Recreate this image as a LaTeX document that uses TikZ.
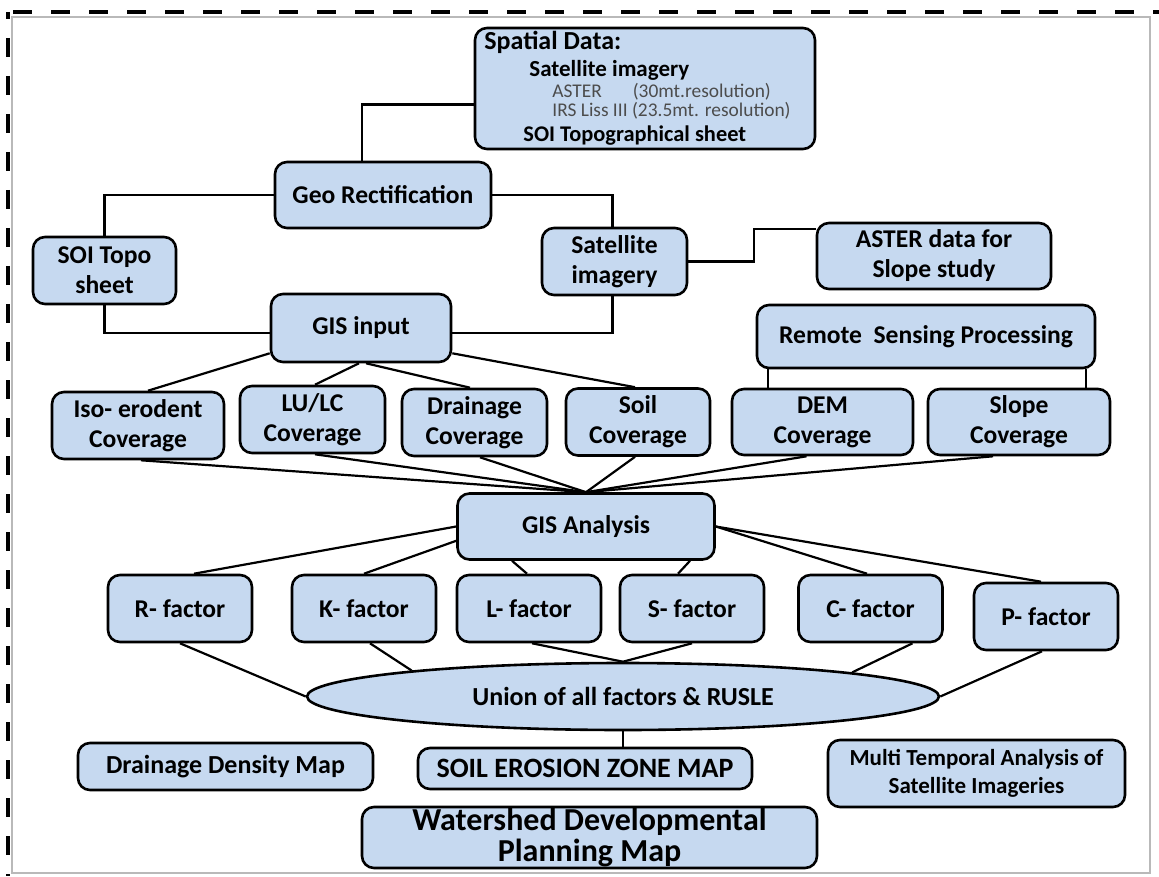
\documentclass[tikz,border=0pt]{standalone}
\usepackage{fontspec}
\setmainfont{Carlito}
\usetikzlibrary{calc, shapes.geometric, positioning}
\definecolor{azulcaja}{RGB}{198,217,240}
\tikzset{
    caja/.style={draw, rounded corners=6pt, fill=azulcaja, line width=1.3pt, inner sep=0pt, align=center, text=black, font=\bfseries\fontsize{12.8}{15}\selectfont},
    tam/.style 2 args={minimum width={#1*0.5pt}, minimum height={#2*0.5pt}},
    elipse/.style={draw, ellipse, fill=azulcaja, line width=1.3pt, inner sep=0pt, text=black, font=\bfseries\fontsize{13}{15}\selectfont},
    texto/.style={anchor=base west, inner sep=0pt, text=black},
    conector/.style={line width=1.1pt, black},
    marco/.style={line width=2.3pt, dash pattern=on 9.5pt off 9.5pt},
}

\begin{document}
\begin{tikzpicture}[x=0.5pt, y=-0.5pt]
\useasboundingbox (0,0) rectangle (1159,876);

% Marco de la figura
\draw[gray!55, line width=0.8pt] (12,17) rectangle (1150,873);
\draw[marco, dash phase=6pt] (8,12) -- (8,876);
\draw[marco, dash phase=16.5pt] (8,12) -- (1159,12);

% Datos espaciales
\node[caja, tam={340}{121}] (spatial) at (645,88.5) {};
\node[texto, font=\bfseries\fontsize{13}{15}\selectfont] (sd1) at (484,50) {Spatial Data:};
\node[texto, font=\bfseries\fontsize{11.5}{13}\selectfont] (sd2) at (529,77) {Satellite imagery};
\node[texto, font=\fontsize{9.7}{11}\selectfont, text=black!70] (sd3) at (552,98) {ASTER\hspace{15.5pt}(30mt.resolution)};
\node[texto, font=\fontsize{9.7}{11}\selectfont, text=black!70] (sd4) at (552,117) {IRS Liss III (23.5mt. resolution)};
\node[texto, font=\bfseries\fontsize{11.2}{13}\selectfont] (sd5) at (523,142) {SOI Topographical sheet};

% Preproceso
\node[caja, tam={216}{66}] (geo) at (383,195) {Geo Rectification};
\node[caja, tam={143}{67}] (soi) at (104.5,270.5) {SOI Topo\\sheet};
\node[caja, tam={145}{67}] (sat) at (614.5,261.5) {Satellite\\imagery};
\node[caja, tam={234}{66}] (aster) at (934,256) {ASTER data for\\Slope study};
\node[caja, tam={180}{68}] (gisin) at (361,328) {GIS input};
\node[caja, tam={338}{63}] (rsp) at (926,336.5) {Remote\ \ Sensing Processing};

% Coberturas
\node[caja, tam={172}{67}] (iso) at (138,425.5) {Iso- erodent\\Coverage};
\node[caja, tam={145}{67}] (lulc) at (312.5,419.5) {LU/LC\\Coverage};
\node[caja, tam={145}{67}] (drain) at (474.5,422.5) {Drainage\\Coverage};
\node[caja, tam={144}{67}] (soil) at (638,422) {Soil\\Coverage};
\node[caja, tam={181}{66}] (dem) at (822.5,422) {DEM\\Coverage};
\node[caja, tam={182}{66}] (slope) at (1019,422) {Slope\\Coverage};

\node[caja, tam={257}{66}] (gisan) at (586,526.5) {GIS Analysis};

% Factores
\foreach \n/\x/\t in {rf/180/R, kf/364/K, lf/529/L, sf/692/S, cf/870.5/C} {
    \node[caja, tam={144}{67}] (\n) at (\x,608.5) {\t- factor};
}
\node[caja, tam={144}{67}] (pf) at (1046,616.5) {P- factor};

\node[elipse, tam={632}{67}] (union) at (623,696.5) {Union of all factors \& RUSLE};

% Resultados
\node[caja, tam={295}{47}, font=\bfseries\fontsize{13}{15}\selectfont] (ddm) at (225.5,766.5) {Drainage Density Map};
\node[caja, tam={334}{41}, font=\bfseries\fontsize{14}{15}\selectfont] (soilmap) at (585,768.5) {SOIL EROSION ZONE MAP};
\node[caja, tam={297}{67}, font=\bfseries\fontsize{11.5}{14}\selectfont] (multi) at (976.5,773.5) {Multi Temporal Analysis of\\Satellite Imageries};
\node[caja, tam={455}{61}, font=\bfseries\fontsize{16}{15.5}\selectfont] (water) at (589.5,837.5) {Watershed Developmental\\Planning Map};

% Conectores
\draw[conector] ($(spatial.west)+(0,16)$) -| ($(geo.north)+(-21,0)$);
\draw[conector] (geo.west) -| (soi.north);
\draw[conector] (geo.east) -| ($(sat.north)+(-2,0)$);
\draw[conector] (sat.east) -- ++(66,0) |- ($(aster.west)+(0,-27)$);
\draw[conector] (soi.south) |- ($(gisin.west)+(0,5)$);
\draw[conector] ($(sat.south)+(-2,0)$) |- ($(gisin.east)+(0,5)$);

\draw[conector] ($(gisin.south west)+(0,-10)$) -- ($(iso.north)+(10,0)$);
\draw[conector] ($(gisin.south)+(-2,0)$) -- ($(lulc.north)+(2.5,0)$);
\draw[conector] ($(gisin.south)+(5,0)$) -- ($(drain.north)+(-4.5,0)$);
\draw[conector] ($(gisin.south east)+(0,-10)$) -- ($(soil.north)+(-3,0)$);

\coordinate (rspizq) at ($(rsp.south west)+(12,0)$);
\coordinate (rspder) at ($(rsp.south east)+(-10,0)$);
\draw[conector] (rspizq) -- (rspizq |- dem.north);
\draw[conector] (rspder) -- (rspder |- slope.north);

\foreach \n/\d in {iso/3, lulc/2.5, drain/5.5, soil/-3, dem/-16, slope/-26} {
    \draw[conector] ($(\n.south)+(\d,0)$) -- (gisan.north);
}

\draw[conector] (gisan.west) -- ($(rf.north)+(14,0)$);
\draw[conector] ($(gisan.south west)+(0,-20)$) -- (kf.north);
\draw[conector] ($(gisan.south)+(-74,0)$) -- ($(lf.north)+(-2,0)$);
\draw[conector] ($(gisan.south)+(104,0)$) -- ($(sf.north)+(-14,0)$);
\draw[conector] (gisan.east) -- ($(cf.north)+(-3.5,0)$);
\draw[conector] (gisan.east) -- ($(pf.north)+(-5,0)$);

\draw[conector] (rf.south) -- (union.west);
\draw[conector] ($(kf.south)+(6,0)$) -- (union.173.8);
\draw[conector] ($(lf.south)+(3,0)$) -- (union.north);
\draw[conector] (sf.south) -- (union.north);
\draw[conector] ($(cf.south)+(42,0)$) -- (union.6.2);
\draw[conector] ($(pf.south)+(-4,0)$) -- (union.east);
\draw[conector] (union.south) -- (union.south |- soilmap.north);
\end{tikzpicture}
\end{document}
